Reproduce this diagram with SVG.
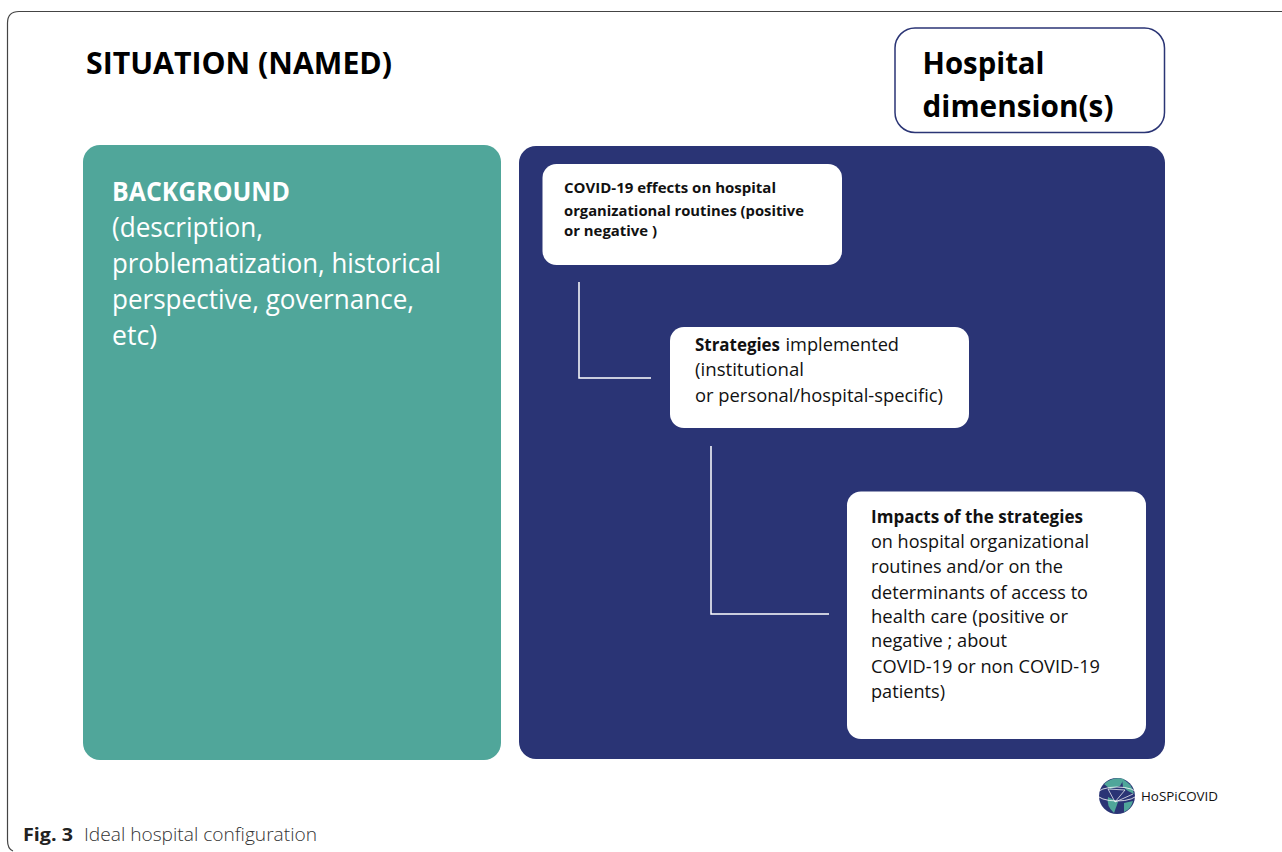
<svg xmlns="http://www.w3.org/2000/svg" width="1282" height="852" viewBox="0 0 1282 852">
<style>
text{font-family:"Open Sans","Noto Sans","Liberation Sans",sans-serif}
.h{font-size:31px;font-weight:700;fill:#000}
.bg{font-size:26.5px;fill:#fff}
.t{font-size:17.5px;fill:#111}
.s{font-size:15px}
.b{font-weight:700}
.card{fill:#fff}
.conn{fill:none;stroke:#fff;stroke-width:1.5}
</style>
<rect width="1282" height="852" fill="#fff"/>
<path d="M1282 11.500H19Q7.500 11.500 7.500 23V840Q7.500 849 13 851" fill="none" stroke="#444" stroke-width="1.200"/>
<text id="title" class="h" x="86" y="74" textLength="306" lengthAdjust="spacingAndGlyphs">SITUATION (NAMED)</text>
<g id="dimension">
<rect x="895" y="28" width="269.500" height="104.500" rx="20" fill="#fff" stroke="#2b3575" stroke-width="1.500"/>
<text class="h" x="922.500" y="74" textLength="122" lengthAdjust="spacingAndGlyphs">Hospital</text>
<text class="h" x="922.500" y="117" textLength="191" lengthAdjust="spacingAndGlyphs">dimension(s)</text>
</g>
<g id="background">
<rect x="83" y="145" width="418" height="615" rx="17" fill="#50a69a"/>
<text class="bg b" x="112" y="201" textLength="178" lengthAdjust="spacingAndGlyphs">BACKGROUND</text>
<text class="bg" x="112" y="237" textLength="151" lengthAdjust="spacingAndGlyphs">(description,</text>
<text class="bg" x="112" y="273" textLength="329" lengthAdjust="spacingAndGlyphs">problematization, historical</text>
<text class="bg" x="112" y="309" textLength="302" lengthAdjust="spacingAndGlyphs">perspective, governance,</text>
<text class="bg" x="112" y="345" textLength="45" lengthAdjust="spacingAndGlyphs">etc)</text>
</g>
<rect id="panel" x="519" y="146" width="646" height="613" rx="17" fill="#2a3475"/>
<g id="connectors">
<path class="conn" d="M579 282V378H651"/>
<path class="conn" d="M711 446V614H829"/>
</g>
<g id="effects">
<rect class="card" x="542.500" y="164" width="299.500" height="101" rx="14"/>
<text class="t b s" x="564" y="193" textLength="212" lengthAdjust="spacingAndGlyphs">COVID-19 effects on hospital</text>
<text class="t b s" x="564" y="215.500" textLength="240" lengthAdjust="spacingAndGlyphs">organizational routines (positive</text>
<text class="t b s" x="564" y="236" textLength="93" lengthAdjust="spacingAndGlyphs">or negative )</text>
</g>
<g id="strategies">
<rect class="card" x="670" y="327" width="299" height="101" rx="14"/>
<text class="t b" x="695" y="350.500" textLength="85" lengthAdjust="spacingAndGlyphs">Strategies</text>
<text class="t" x="785.500" y="350.500" textLength="113.500" lengthAdjust="spacingAndGlyphs">implemented</text>
<text class="t" x="695" y="376" textLength="109" lengthAdjust="spacingAndGlyphs">(institutional</text>
<text class="t" x="695" y="401.500" textLength="248" lengthAdjust="spacingAndGlyphs">or personal/hospital-specific)</text>
</g>
<g id="impacts">
<rect class="card" x="847" y="491.500" width="299" height="247.500" rx="14"/>
<text class="t b" x="871" y="522.500" textLength="212" lengthAdjust="spacingAndGlyphs">Impacts of the strategies</text>
<text class="t" x="871" y="548" textLength="218" lengthAdjust="spacingAndGlyphs">on hospital organizational</text>
<text class="t" x="871" y="573" textLength="192" lengthAdjust="spacingAndGlyphs">routines and/or on the</text>
<text class="t" x="871" y="598.500" textLength="217" lengthAdjust="spacingAndGlyphs">determinants of access to</text>
<text class="t" x="871" y="623" textLength="197" lengthAdjust="spacingAndGlyphs">health care (positive or</text>
<text class="t" x="871" y="647" textLength="136" lengthAdjust="spacingAndGlyphs">negative ; about</text>
<text class="t" x="871" y="672.500" textLength="229" lengthAdjust="spacingAndGlyphs">COVID-19 or non COVID-19</text>
<text class="t" x="871" y="698" textLength="74" lengthAdjust="spacingAndGlyphs">patients)</text>
</g>
<g id="logo">
<circle cx="1117" cy="796" r="18" fill="#2a3475"/>
<path d="M1104 784Q1113 776 1124 779L1120 786L1110 789Z" fill="#50a69a"/>
<path d="M1122 779Q1132 783 1134 794L1128 791L1123 787Z" fill="#50a69a"/>
<path d="M1108 797L1118 802L1114 813Q1106 806 1108 797Z" fill="#50a69a"/>
<path d="M1124 803L1133 801Q1131 809 1124 812Z" fill="#50a69a"/>
<ellipse cx="1117" cy="794" rx="20" ry="7" fill="none" stroke="#fff" stroke-width=".8"/>
<path d="M1108 789L1125 790L1115 802L1122 799L1133 794M1108 789L1115 802" fill="none" stroke="#fff" stroke-width=".7"/>
<text x="1141" y="801" font-size="13.500" fill="#111" textLength="77" lengthAdjust="spacingAndGlyphs">HoSPiCOVID</text>
</g>
<g id="caption">
<text x="23" y="841" font-size="18.500" font-weight="700" fill="#222" textLength="50" lengthAdjust="spacingAndGlyphs">Fig. 3</text>
<text x="84" y="841" font-size="18.500" fill="#333" textLength="233" lengthAdjust="spacingAndGlyphs" style="font-weight:300">Ideal hospital configuration</text>
</g>
</svg>
